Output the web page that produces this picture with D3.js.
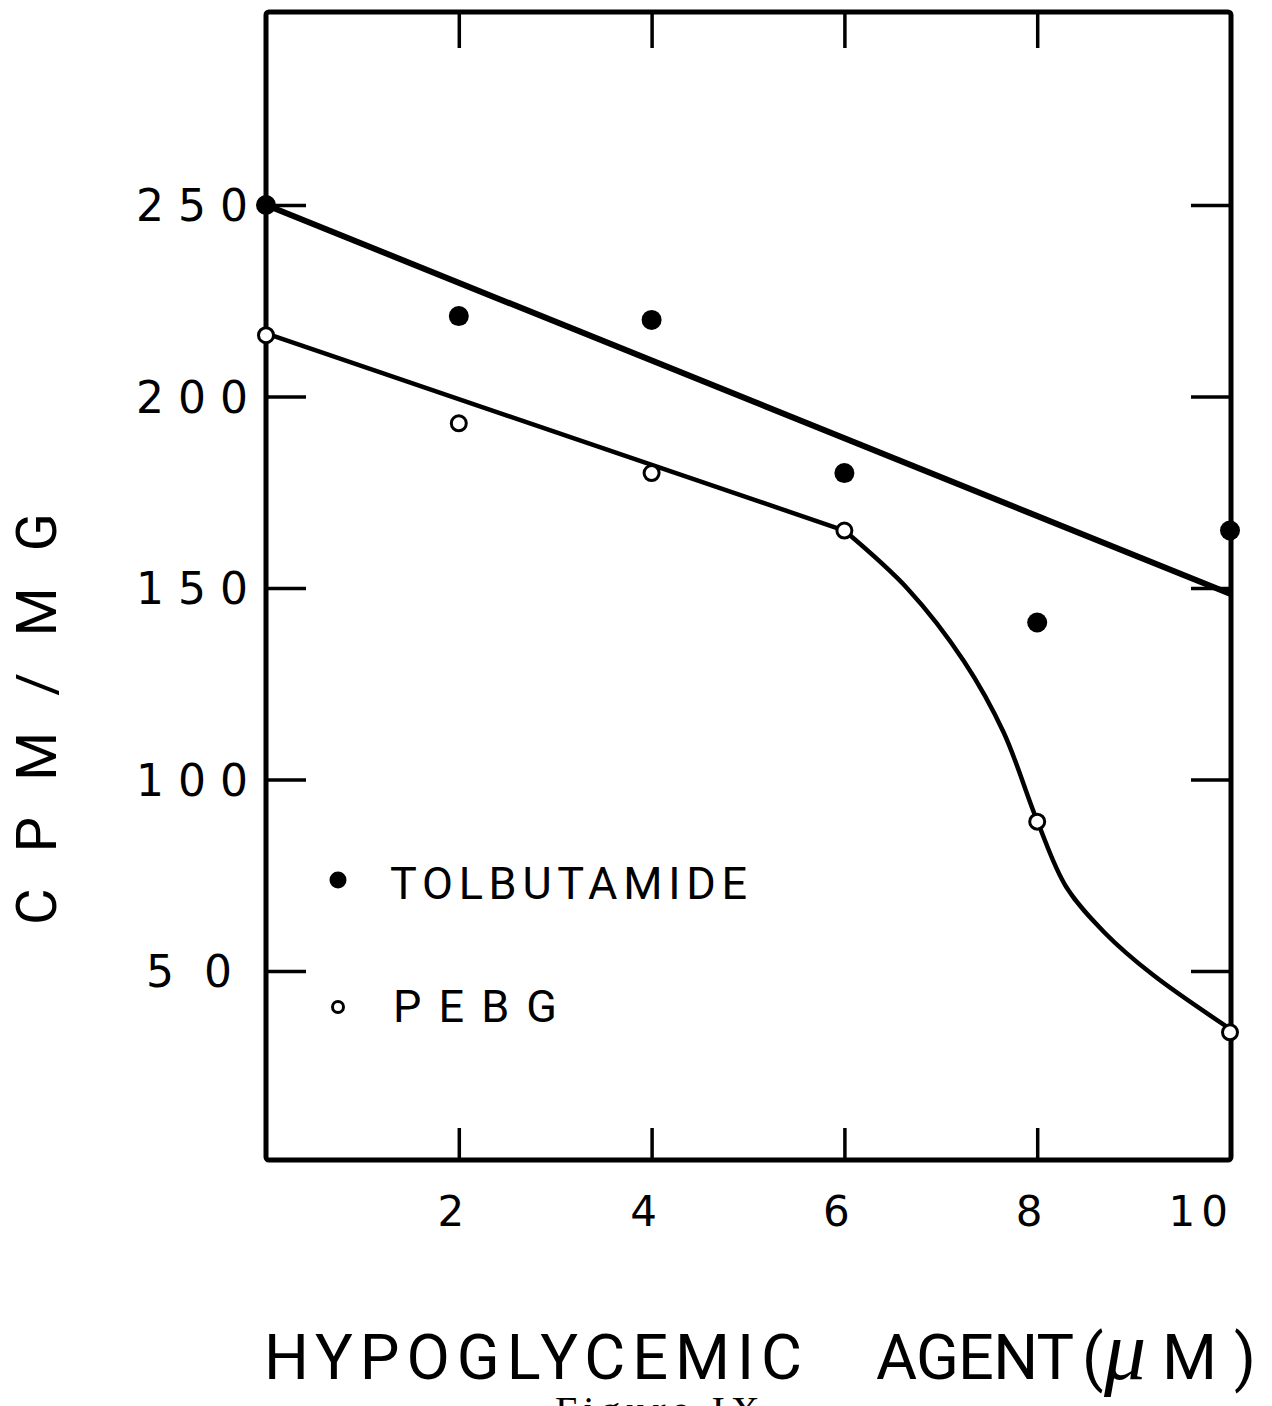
<!DOCTYPE html>
<html>
<head>
<meta charset="utf-8">
<script src="https://cdn.jsdelivr.net/npm/d3@7"></script>
<style>
  body { margin: 0; background: #fff; }
  svg { display: block; }
  text { fill: #000; }
</style>
</head>
<body>
<script>
// data
const doses = [0, 2, 4, 6, 8, 10];
const tolbutamide = [250, 221, 220, 180, 141, 165];
const pebg = [216, 193, 180, 165, 89, 34];

// hand-drawn fit lines
const tolbFit = [[0, 250], [10, 148.5]];
const pebgFitStraight = [[0, 216.5], [6, 165]];
const pebgFitCurve = [[6, 165], [6.66, 149.7], [7.24, 130.9], [7.65, 112.4], [8, 89.2],
                      [8.3, 72], [8.7, 60], [9.2, 49], [10, 34.9]];

const xTicks = [2, 4, 6, 8];
const xLabels = [2, 4, 6, 8, 10];
const yTicks = [50, 100, 150, 200, 250];

const W = 1272, H = 1406;
const frame = { left: 266, right: 1231, top: 12, bottom: 1160 };
const titleFont = "Roboto";

const x = d3.scaleLinear().domain([0, 10]).range([266, 1230]);
const y = d3.scaleLinear().domain([0, 300]).range([1162.5, 13.5]);

const svg = d3.select("body").append("svg")
    .attr("width", W)
    .attr("height", H);

// plot frame
svg.append("rect")
    .attr("x", frame.left)
    .attr("y", frame.top)
    .attr("width", frame.right - frame.left)
    .attr("height", frame.bottom - frame.top)
    .attr("fill", "none")
    .attr("stroke", "#000")
    .attr("stroke-width", 5)
    .attr("rx", 3);

// inward ticks on all four sides
function styleTicks(g) {
    g.select(".domain").remove();
    g.selectAll(".tick line").attr("stroke", "#000").attr("stroke-width", 3.5);
}

const leftAxis = svg.append("g")
    .attr("transform", `translate(${frame.left},0)`)
    .call(d3.axisLeft(y).tickValues(yTicks).tickSize(-40).tickPadding(0))
    .call(styleTicks);
leftAxis.selectAll(".tick text")
    .attr("x", -4)
    .attr("dy", "0.36em")
    .style("font-family", "DejaVu Sans")
    .style("font-size", "44px")
    .style("letter-spacing", d => d === 50 ? "30px" : "14px");
leftAxis.attr("font-family", null).attr("font-size", null);

svg.append("g")
    .attr("transform", `translate(${frame.right},0)`)
    .call(d3.axisRight(y).tickValues(yTicks).tickSize(-40).tickFormat(""))
    .call(styleTicks);

svg.append("g")
    .attr("transform", `translate(0,${frame.top})`)
    .call(d3.axisTop(x).tickValues(xTicks).tickSize(-36).tickFormat(""))
    .call(styleTicks);

svg.append("g")
    .attr("transform", `translate(0,${frame.bottom})`)
    .call(d3.axisBottom(x).tickValues(xTicks).tickSize(-32).tickFormat(""))
    .call(styleTicks);

// x tick labels (hand lettered, sitting a little left of the ticks)
svg.append("g")
    .selectAll("text")
    .data(xLabels)
    .join("text")
    .attr("x", d => d === 10 ? x(d) + 4 : x(d) - 8)
    .attr("y", 1226)
    .attr("text-anchor", d => d === 10 ? "end" : "middle")
    .style("font-family", "DejaVu Sans")
    .style("font-size", "42px")
    .style("letter-spacing", d => d === 10 ? "6px" : "0px")
    .text(d => d);

// fit lines
const line = d3.line().x(d => x(d[0])).y(d => y(d[1]));
const curve = d3.line().x(d => x(d[0])).y(d => y(d[1])).curve(d3.curveCatmullRom.alpha(0.5));

svg.append("path")
    .attr("d", line(tolbFit))
    .attr("fill", "none")
    .attr("stroke", "#000")
    .attr("stroke-width", 6);

svg.append("path")
    .attr("d", line(pebgFitStraight))
    .attr("fill", "none")
    .attr("stroke", "#000")
    .attr("stroke-width", 4.5);

svg.append("path")
    .attr("d", curve(pebgFitCurve))
    .attr("fill", "none")
    .attr("stroke", "#000")
    .attr("stroke-width", 4.5);

// points
svg.append("g")
    .selectAll("circle")
    .data(doses.map((d, i) => [d, tolbutamide[i]]))
    .join("circle")
    .attr("cx", d => x(d[0]))
    .attr("cy", d => y(d[1]))
    .attr("r", 10)
    .attr("fill", "#000");

svg.append("g")
    .selectAll("circle")
    .data(doses.map((d, i) => [d, pebg[i]]))
    .join("circle")
    .attr("cx", d => x(d[0]))
    .attr("cy", d => y(d[1]))
    .attr("r", 7.5)
    .attr("fill", "#fff")
    .attr("stroke", "#000")
    .attr("stroke-width", 3);

// legend
const legend = svg.append("g")
    .style("font-family", titleFont)
    .style("font-size", "45px");
legend.append("circle").attr("cx", 338).attr("cy", 880).attr("r", 8.5).attr("fill", "#000");
legend.append("text")
    .attr("x", 390).attr("y", 899)
    .attr("textLength", 357).attr("lengthAdjust", "spacing")
    .text("TOLBUTAMIDE");
legend.append("circle").attr("cx", 338).attr("cy", 1007).attr("r", 5.5)
    .attr("fill", "#fff").attr("stroke", "#000").attr("stroke-width", 3);
legend.append("text")
    .attr("x", 393).attr("y", 1022)
    .attr("textLength", 164).attr("lengthAdjust", "spacing")
    .text("PEBG");

// y axis title
svg.append("text")
    .attr("transform", "translate(56,925) rotate(-90)")
    .attr("textLength", 412).attr("lengthAdjust", "spacing")
    .style("font-family", titleFont).style("font-size", "56px")
    .text("CPM/MG");

// x axis title
const xt = svg.append("g")
    .style("font-family", titleFont)
    .style("font-size", "63px");
xt.append("text").attr("x", 264).attr("y", 1379)
    .attr("textLength", 538).attr("lengthAdjust", "spacing")
    .text("HYPOGLYCEMIC");
xt.append("text").attr("x", 876).attr("y", 1379)
    .attr("textLength", 198).attr("lengthAdjust", "spacing")
    .text("AGENT");
xt.append("text").attr("x", 1082).attr("y", 1379)
    .text("(");
xt.append("text").attr("x", 1104).attr("y", 1379)
    .style("font-family", "Liberation Serif").style("font-style", "italic").style("font-size", "84px")
    .text("μ");
xt.append("text").attr("x", 1162).attr("y", 1379)
    .text("M");
xt.append("text").attr("x", 1234).attr("y", 1379)
    .text(")");

// caption (cut off by the page edge, as in the scan)
svg.append("text")
    .attr("x", 555).attr("y", 1424)
    .style("font-family", "Liberation Serif").style("font-size", "40px")
    .style("letter-spacing", "6px")
    .text("Figure IX");
</script>
</body>
</html>
